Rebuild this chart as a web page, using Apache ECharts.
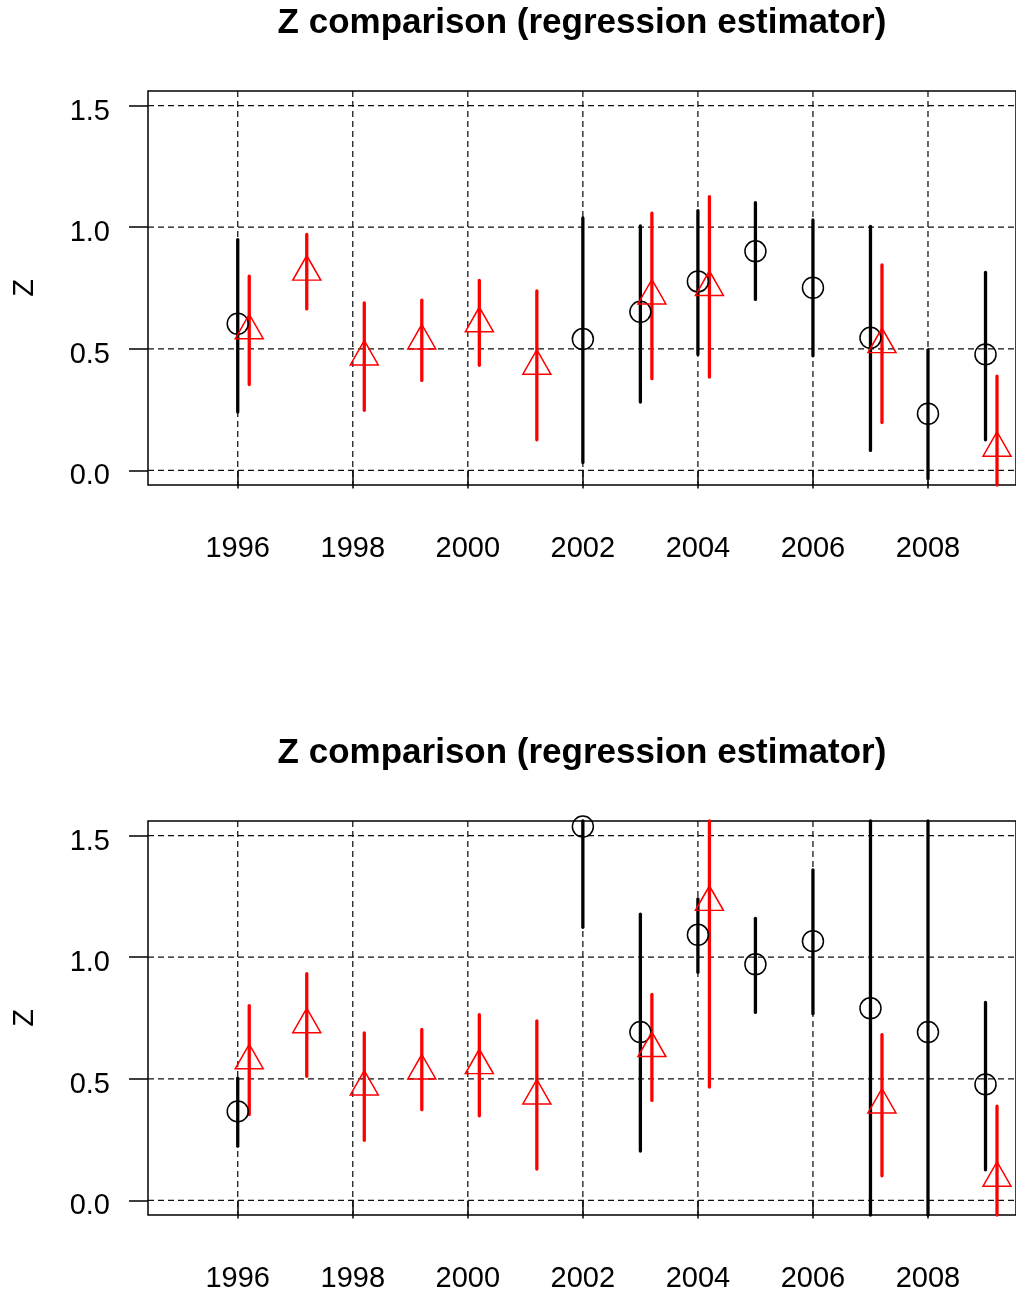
<!DOCTYPE html>
<html>
<head>
<meta charset="utf-8">
<title>Z comparison (regression estimator)</title>
<script src="https://cdn.jsdelivr.net/npm/echarts@6/dist/echarts.min.js"></script>
<style>
  html, body { margin: 0; padding: 0; background: #fff; }
  #chart { width: 1016px; height: 1294px; }
</style>
</head>
<body>
<div id="chart"></div>
<script>
// ---- Data -------------------------------------------------------------
const xTicks = [1996, 1998, 2000, 2002, 2004, 2006, 2008];
const yTicks = [0, 0.5, 1.0, 1.5];

// black estimator (circles), upper panel
const topBlackYears = [1996, 2002, 2003, 2004, 2005, 2006, 2007, 2008, 2009];
const topBlackZ     = [0.603, 0.540, 0.652, 0.777, 0.901, 0.751, 0.545, 0.233, 0.477];
const topBlackLo    = [0.240, 0.033, 0.281, 0.477, 0.703, 0.471, 0.082, -0.034, 0.126];
const topBlackHi    = [0.949, 1.038, 1.005, 1.068, 1.101, 1.030, 1.003, 0.496, 0.814];

// red estimator (triangles), upper panel
const topRedYears = [1996, 1997, 1998, 1999, 2000, 2001, 2003, 2004, 2007, 2009];
const topRedZ     = [0.575, 0.816, 0.467, 0.533, 0.604, 0.429, 0.718, 0.753, 0.518, 0.092];
const topRedLo    = [0.353, 0.664, 0.247, 0.370, 0.432, 0.126, 0.377, 0.384, 0.197, -0.204];
const topRedHi    = [0.799, 0.970, 0.689, 0.700, 0.781, 0.738, 1.058, 1.126, 0.845, 0.388];

// black estimator (circles), lower panel
const botBlackYears = [1996, 2002, 2003, 2004, 2005, 2006, 2007, 2008, 2009];
const botBlackZ     = [0.366, 1.537, 0.692, 1.092, 0.971, 1.066, 0.790, 0.692, 0.477];
const botBlackLo    = [0.223, 1.123, 0.203, 0.938, 0.773, 0.767, -0.21, -0.31, 0.126];
const botBlackHi    = [0.503, 1.951, 1.177, 1.240, 1.160, 1.359, 1.79, 1.69, 0.814];

// red estimator (triangles), lower panel
const botRedYears = [1996, 1997, 1998, 1999, 2000, 2001, 2003, 2004, 2007, 2009];
const botRedZ     = [0.575, 0.723, 0.467, 0.533, 0.555, 0.430, 0.625, 1.226, 0.393, 0.092];
const botRedLo    = [0.353, 0.510, 0.247, 0.373, 0.348, 0.129, 0.411, 0.466, 0.101, -0.204];
const botRedHi    = [0.801, 0.932, 0.689, 0.703, 0.764, 0.738, 0.847, 1.986, 0.682, 0.388];

const titleText = 'Z comparison (regression estimator)';

// ---- Styling constants ----------------------------------------------------
const FONT = '"Liberation Sans", Arial, Helvetica, sans-serif';
const RED = '#ff0000';
const BLACK = '#000000';
const RED_SHIFT = 0.2;          // red estimates are drawn slightly right of the year
const X_MIN = 1994.44, X_MAX = 2009.53;
const Y_MIN = -0.06, Y_MAX = 1.56;
const TRI_W = 28, TRI_H = 24.5;
const LABEL_SIZE = 29;
const GRID_LINE = { stroke: '#111', lineWidth: 1.25, lineDash: [6, 4] };

const panels = [
  { top: 91,  bYears: topBlackYears, bZ: topBlackZ, bLo: topBlackLo, bHi: topBlackHi,
    rYears: topRedYears, rZ: topRedZ, rLo: topRedLo, rHi: topRedHi },
  { top: 821, bYears: botBlackYears, bZ: botBlackZ, bLo: botBlackLo, bHi: botBlackHi,
    rYears: botRedYears, rZ: botRedZ, rLo: botRedLo, rHi: botRedHi }
];

const chart = echarts.init(document.getElementById('chart'), null, { renderer: 'canvas' });

const grids = [], xAxes = [], yAxes = [], series = [], graphics = [];

// vertical error bar, clipped to the plotting box
function errorBarRenderer(color) {
  return function (params, api) {
    const x = api.value(0);
    const p1 = api.coord([x, api.value(1)]);
    const p2 = api.coord([x, api.value(2)]);
    const cs = params.coordSys;
    const clampY = v => Math.max(cs.y, Math.min(cs.y + cs.height, v));
    return {
      type: 'line',
      shape: { x1: p1[0], y1: clampY(p1[1]), x2: p2[0], y2: clampY(p2[1]) },
      style: { stroke: color, lineWidth: 3.3, lineCap: 'round' }
    };
  };
}

panels.forEach((p, i) => {
  grids.push({
    left: 148, top: p.top, width: 868, height: 394,
    show: true, borderColor: BLACK, borderWidth: 1.5, backgroundColor: 'transparent'
  });
  xAxes.push({
    gridIndex: i, type: 'value', min: X_MIN, max: X_MAX, position: 'bottom',
    axisLine: { show: false },
    splitLine: { show: false },
    axisTick: { show: true, customValues: xTicks, length: 18, inside: false,
                lineStyle: { color: BLACK, width: 1.5 } },
    axisLabel: { customValues: xTicks, margin: 49, fontSize: LABEL_SIZE, color: BLACK,
                 fontFamily: FONT, formatter: v => String(v) }
  });
  yAxes.push({
    gridIndex: i, type: 'value', min: Y_MIN, max: Y_MAX,
    name: 'Z', nameLocation: 'middle', nameGap: 109,
    nameTextStyle: { fontSize: LABEL_SIZE, color: BLACK, fontFamily: FONT },
    axisLine: { show: false },
    splitLine: { show: false },
    axisTick: { show: true, customValues: yTicks, length: 19, inside: false,
                lineStyle: { color: BLACK, width: 1.5 } },
    axisLabel: { customValues: yTicks, margin: 38, color: BLACK,
                 formatter: v => '{t|' + v.toFixed(1) + '}',
                 rich: { t: { fontSize: LABEL_SIZE, fontFamily: FONT, color: BLACK,
                              padding: [12, 0, 0, 0] } } }
  });

  // dashed reference grid
  series.push({
    type: 'custom', xAxisIndex: i, yAxisIndex: i, silent: true, z: 1,
    data: xTicks.map(v => [v]),
    renderItem: (params, api) => {
      const cs = params.coordSys;
      const pt = api.coord([api.value(0), 0]);
      return { type: 'line',
        shape: { x1: pt[0], y1: cs.y, x2: pt[0], y2: cs.y + cs.height },
        style: GRID_LINE };
    }
  });
  series.push({
    type: 'custom', xAxisIndex: i, yAxisIndex: i, silent: true, z: 1,
    data: yTicks.map(v => [X_MIN, v]),
    renderItem: (params, api) => {
      const cs = params.coordSys;
      const pt = api.coord([X_MIN, api.value(1)]);
      return { type: 'line',
        shape: { x1: cs.x, y1: pt[1], x2: cs.x + cs.width, y2: pt[1] },
        style: GRID_LINE };
    }
  });

  // error bars
  series.push({
    type: 'custom', xAxisIndex: i, yAxisIndex: i, silent: true, z: 3,
    encode: { x: 0, y: [1, 2] },
    data: p.bYears.map((y, k) => [y, p.bLo[k], p.bHi[k]]),
    renderItem: errorBarRenderer(BLACK)
  });
  series.push({
    type: 'custom', xAxisIndex: i, yAxisIndex: i, silent: true, z: 3,
    encode: { x: 0, y: [1, 2] },
    data: p.rYears.map((y, k) => [y + RED_SHIFT, p.rLo[k], p.rHi[k]]),
    renderItem: errorBarRenderer(RED)
  });

  // point estimates
  series.push({
    type: 'scatter', xAxisIndex: i, yAxisIndex: i, z: 4,
    symbol: 'circle', symbolSize: 21,
    itemStyle: { color: 'rgba(0,0,0,0)', borderColor: BLACK, borderWidth: 1.5, opacity: 1 },
    data: p.bYears.map((y, k) => [y, p.bZ[k]])
  });
  series.push({
    type: 'scatter', xAxisIndex: i, yAxisIndex: i, z: 4,
    symbol: 'triangle', symbolSize: [TRI_W, TRI_H], symbolOffset: [0, -TRI_H / 6],
    itemStyle: { color: 'rgba(0,0,0,0)', borderColor: RED, borderWidth: 1.5, opacity: 1 },
    data: p.rYears.map((y, k) => [y + RED_SHIFT, p.rZ[k]])
  });

  graphics.push({
    type: 'text', x: 582, y: p.top - 68,
    style: { text: titleText, fill: BLACK, font: 'bold 35px ' + FONT,
             textAlign: 'center', textVerticalAlign: 'middle' }
  });
});

chart.setOption({
  animation: false,
  backgroundColor: '#ffffff',
  grid: grids,
  xAxis: xAxes,
  yAxis: yAxes,
  series: series,
  graphic: graphics
});
</script>
</body>
</html>
